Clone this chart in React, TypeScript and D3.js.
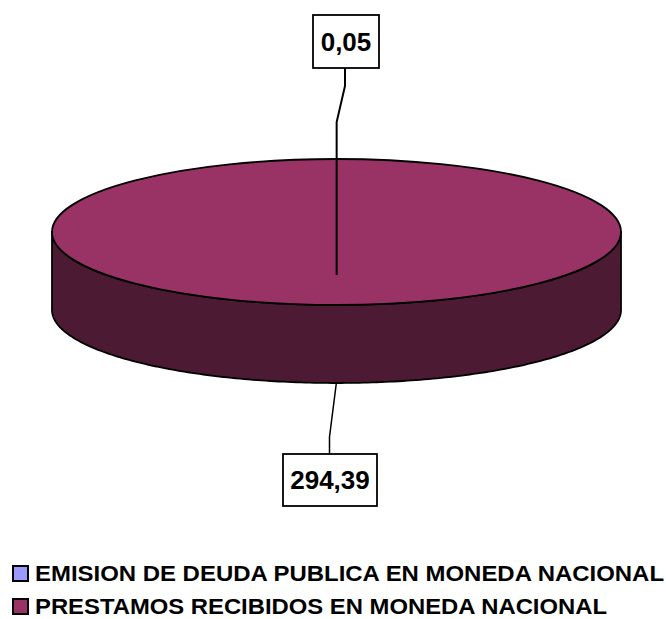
import React from "react";
import * as d3 from "d3";

const categories = ["EMISION DE DEUDA PUBLICA EN MONEDA NACIONAL", "PRESTAMOS RECIBIDOS EN MONEDA NACIONAL"];
const values = [0.05, 294.39];
const valueLabels = ["0,05", "294,39"];
const topColors = ["#9999FF", "#993366"];
const sideColors = ["#4D4D80", "#4D1A33"];
const legendWidths = [629, 572];

const W = 666, H = 619;
const cx = 336.5, cy = 232, rx = 284.5, ry = 73, depth = 78;
const font = "'Liberation Sans', Arial, sans-serif";

function proj(a: number, dy = 0): [number, number] {
  return [cx + rx * Math.sin(a), cy - ry * Math.cos(a) + dy];
}

function slicePath(a0: number, a1: number): string {
  const n = Math.max(2, Math.ceil(((a1 - a0) / (2 * Math.PI)) * 200));
  const pts: [number, number][] = [[cx, cy]];
  for (let i = 0; i <= n; i++) pts.push(proj(a0 + ((a1 - a0) * i) / n));
  return d3.line()(pts)! + "Z";
}

export default function App() {
  const pie = d3.pie<number>().sort(null).startAngle(0).endAngle(2 * Math.PI);
  const arcs = pie(values);

  const sidePts: [number, number][] = [];
  const N = 200;
  for (let i = 0; i <= N; i++) sidePts.push(proj(Math.PI / 2 + (Math.PI * i) / N));
  const bottomPts: [number, number][] = [];
  for (let i = N; i >= 0; i--) bottomPts.push(proj(Math.PI / 2 + (Math.PI * i) / N, depth));
  const sidePath = d3.line()([...sidePts, ...bottomPts])! + "Z";

  const mid0 = (arcs[0].startAngle + arcs[0].endAngle) / 2;
  const mid1 = (arcs[1].startAngle + arcs[1].endAngle) / 2;
  const [t0x] = proj(mid0);
  const [b1x, b1y] = proj(mid1, depth);

  const box0 = { x: 313, y: 15, w: 66, h: 53 };
  const box1 = { x: 283, y: 454, w: 94, h: 52 };

  const leader0 = d3.line()([
    [t0x, cy + 43],
    [t0x, cy - 110],
    [box0.x + box0.w / 2 - 1, cy - 146],
    [box0.x + box0.w / 2 - 1, box0.y + box0.h],
  ])!;
  const leader1 = d3.line()([
    [b1x, b1y],
    [box1.x + box1.w / 2 - 0.5, b1y + 54],
    [box1.x + box1.w / 2 - 0.5, box1.y],
  ])!;

  return (
    <svg width={W} height={H} style={{ position: "absolute", left: 0, top: 0 }}>
      <rect width={W} height={H} fill="#fff" />
      <path d={sidePath} fill={sideColors[1]} stroke="#000" strokeWidth={1.8} strokeLinejoin="round" />
      {arcs.map((a, i) => (
        <path key={i} d={slicePath(a.startAngle, a.endAngle)} fill={topColors[i]} stroke="none" />
      ))}
      <ellipse cx={cx} cy={cy} rx={rx} ry={ry} fill="none" stroke="#000" strokeWidth={1.8} />
      <path d={leader0} fill="none" stroke="#000" strokeWidth={2} />
      <path d={leader1} fill="none" stroke="#000" strokeWidth={1.5} />
      {[box0, box1].map((b, i) => (
        <g key={i}>
          <rect x={b.x} y={b.y} width={b.w} height={b.h} fill="#fff" stroke="#000" strokeWidth={1.8} />
          <text x={b.x + b.w / 2} y={b.y + b.h / 2 + 9} textAnchor="middle" fontFamily={font} fontWeight="bold" fontSize={26}>
            {valueLabels[i]}
          </text>
        </g>
      ))}
      {categories.map((c, i) => (
        <g key={c} transform={`translate(0, ${565 + i * 33})`}>
          <rect x={13} y={1} width={15} height={15} fill={topColors[i]} stroke="#000" strokeWidth={2} />
          <text x={35} y={16} fontFamily={font} fontWeight="bold" fontSize={22}
            textLength={legendWidths[i]} lengthAdjust="spacingAndGlyphs">
            {c}
          </text>
        </g>
      ))}
    </svg>
  );
}
